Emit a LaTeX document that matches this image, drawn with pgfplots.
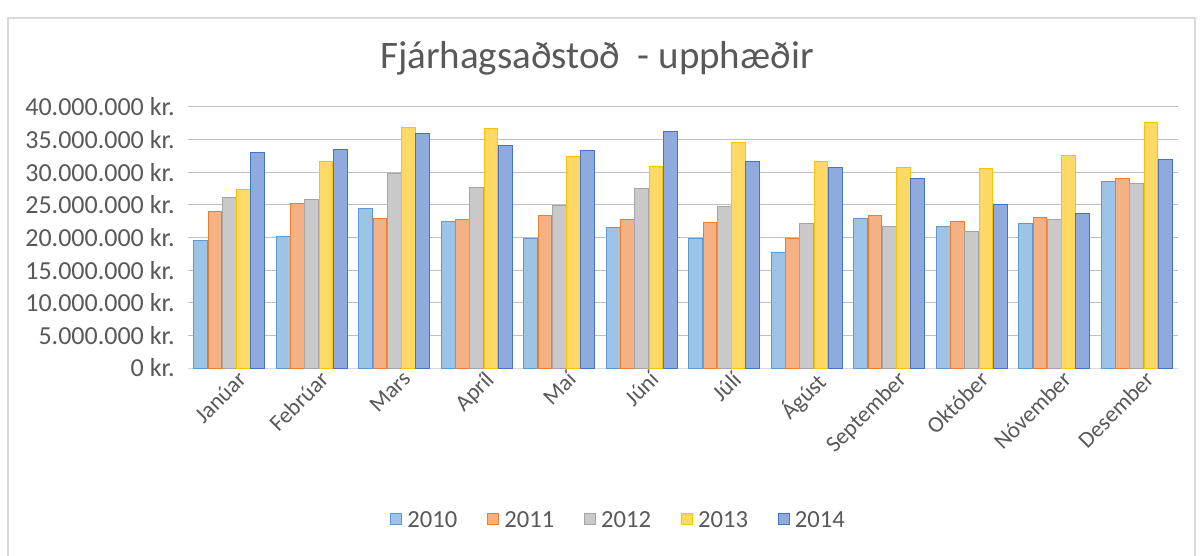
\documentclass[border=0pt]{standalone}
\usepackage{pgfplots}
\pgfplotsset{compat=1.18}
\usepackage{fontspec}
\setmainfont{Carlito}
\definecolor{txt}{HTML}{595959}
\definecolor{grid}{HTML}{D9D9D9}
\definecolor{fA}{HTML}{9DC3E6}\definecolor{dA}{HTML}{5B9BD5}
\definecolor{fB}{HTML}{F4B183}\definecolor{dB}{HTML}{ED7D31}
\definecolor{fC}{HTML}{C9C9C9}\definecolor{dC}{HTML}{A5A5A5}
\definecolor{fD}{HTML}{FFD966}\definecolor{dD}{HTML}{FFC000}
\definecolor{fE}{HTML}{8FAADC}\definecolor{dE}{HTML}{4472C4}
\begin{document}
\begin{tikzpicture}
\useasboundingbox (0pt,0pt) rectangle (601.5pt,278pt);
\fill[white] (0pt,0pt) rectangle (601.5pt,278pt);
\draw[grid,line width=0.6pt] (4pt,-1pt) -- (4pt,269pt) -- (597.5pt,269pt) -- (597.5pt,-1pt);
\node[text=txt,font=\fontsize{19.5}{21}\selectfont] at (298.5pt,249pt) {Fjárhagsaðstoð\ \ - upphæðir};
\begin{axis}[
  at={(94pt,94pt)}, anchor=south west,
  scale only axis, width=495pt, height=130.5pt,
  ybar=0.2pt, bar width=6.9pt,
  xmin=-0.5, xmax=11.5, ymin=0, ymax=40000000,
  xtick={0,...,11}, major tick length=0pt,
  xticklabels={Janúar,Febrúar,Mars,Apríl,Maí,Júní,Júlí,Ágúst,September,Október,Nóvember,Desember},
  x tick label style={rotate=45, anchor=north east, text=txt, font=\fontsize{11.5}{12}\selectfont, xshift=3pt, yshift=-2pt, inner sep=1pt},
  ytick={0,5000000,10000000,15000000,20000000,25000000,30000000,35000000,40000000},
  yticklabels={0 kr.,5.000.000 kr.,10.000.000 kr.,15.000.000 kr.,20.000.000 kr.,25.000.000 kr.,30.000.000 kr.,35.000.000 kr.,40.000.000 kr.},
  y tick label style={text=txt, font=\fontsize{13}{14}\selectfont, xshift=-5.5pt, inner sep=1pt},
  xmajorgrids=false, ymajorgrids=true, grid style={grid, line width=0.5pt},
  axis x line*=bottom, axis y line*=left,
  x axis line style={grid, line width=0.5pt, -},
  y axis line style={draw=none},
  scaled y ticks=false,
  legend columns=5,
  legend style={at={(0.435,-0.586)}, anchor=center, draw=none, fill=none,
    font=\fontsize{12.3}{13}\selectfont, text=txt,
    /tikz/every even column/.append style={column sep=14pt},
    nodes={inner xsep=1pt}},
  legend image code/.code={\draw[#1, line width=0.5pt] (0pt,-1.8pt) rectangle (5.4pt,3.6pt); \path (7pt,0pt);},
]
\addplot[fill=fA, draw=dA, line width=0.5pt] coordinates {(0,19500000)(1,20100000)(2,24500000)(3,22500000)(4,19800000)(5,21600000)(6,19800000)(7,17700000)(8,22900000)(9,21700000)(10,22200000)(11,28600000)};
\addplot[fill=fB, draw=dB, line width=0.5pt] coordinates {(0,24000000)(1,25200000)(2,22900000)(3,22700000)(4,23400000)(5,22700000)(6,22300000)(7,19800000)(8,23300000)(9,22400000)(10,23100000)(11,29000000)};
\addplot[fill=fC, draw=dC, line width=0.5pt] coordinates {(0,26100000)(1,25900000)(2,29800000)(3,27600000)(4,24900000)(5,27500000)(6,24700000)(7,22200000)(8,21700000)(9,20900000)(10,22700000)(11,28200000)};
\addplot[fill=fD, draw=dD, line width=0.5pt] coordinates {(0,27300000)(1,31600000)(2,36900000)(3,36700000)(4,32400000)(5,30900000)(6,34500000)(7,31700000)(8,30700000)(9,30600000)(10,32600000)(11,37700000)};
\addplot[fill=fE, draw=dE, line width=0.5pt] coordinates {(0,33100000)(1,33500000)(2,35900000)(3,34100000)(4,33300000)(5,36300000)(6,31700000)(7,30700000)(8,29000000)(9,25100000)(10,23700000)(11,32000000)};
\legend{2010,2011,2012,2013,2014}
\end{axis}
\end{tikzpicture}
\end{document}
